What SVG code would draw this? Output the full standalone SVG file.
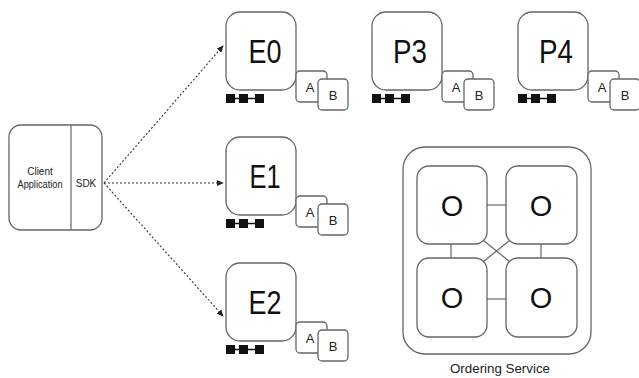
<svg xmlns="http://www.w3.org/2000/svg" width="639" height="378" viewBox="0 0 639 378">
<defs>
<style>
.box{fill:#fff;stroke:#666;stroke-width:1.3}
.big{font-family:"Liberation Sans","DejaVu Sans",sans-serif;font-size:33px;fill:#111;text-anchor:middle}
.ab{font-family:"Liberation Sans","DejaVu Sans",sans-serif;font-size:13px;fill:#222;text-anchor:middle}
.small{font-family:"Liberation Sans","DejaVu Sans",sans-serif;font-size:10px;fill:#222;text-anchor:middle}
.sq{fill:#111}
.chain{stroke:#111;stroke-width:1.5}
.conn{fill:none;stroke:#333;stroke-width:1.1;stroke-dasharray:2 2}
.link{stroke:#666;stroke-width:1.2}
.o{font-family:"Liberation Sans","DejaVu Sans",sans-serif;font-size:29px;fill:#111;text-anchor:middle}
</style>
<marker id="arr" viewBox="0 0 8 8" refX="7" refY="4" markerWidth="7" markerHeight="7" markerUnits="userSpaceOnUse" orient="auto">
<path d="M0,0.5 L8,4 L0,7.5 Z" fill="#222"/>
</marker>
<g id="peer">
<rect class="box" x="70" y="59" width="31" height="31" rx="4"/>
<text class="ab" x="84" y="80">A</text>
<rect class="box" x="92" y="67" width="30" height="31" rx="4"/>
<text class="ab" x="107" y="88">B</text>
<line class="chain" x1="1" y1="86.5" x2="37" y2="86.5"/>
<rect class="sq" x="0" y="82" width="9" height="9"/>
<rect class="sq" x="13" y="82" width="9" height="9"/>
<rect class="sq" x="29" y="82" width="9" height="9"/>
</g>
</defs>

<g id="connectors">
<line class="conn" x1="104" y1="183" x2="223" y2="46" marker-end="url(#arr)"/>
<line class="conn" x1="104" y1="183" x2="223" y2="183" marker-end="url(#arr)"/>
<line class="conn" x1="104" y1="183" x2="223" y2="316" marker-end="url(#arr)"/>
</g>

<g id="client">
<rect class="box" x="9" y="125" width="93" height="105" rx="12"/>
<line class="link" x1="71" y1="125" x2="71" y2="230"/>
<text class="small" x="40" y="175">Client</text>
<text class="small" x="40" y="188" textLength="45" lengthAdjust="spacingAndGlyphs">Application</text>
<text class="small" x="86" y="187">SDK</text>
</g>

<g id="E0">
<rect class="box" x="226" y="12" width="70" height="78" rx="14"/>
<text class="big" x="265" y="63" textLength="33" lengthAdjust="spacingAndGlyphs">E0</text>
<use href="#peer" x="226" y="12"/>
</g>
<g id="E1">
<rect class="box" x="226" y="137" width="70" height="78" rx="14"/>
<text class="big" x="265" y="188" textLength="31" lengthAdjust="spacingAndGlyphs">E1</text>
<use href="#peer" x="226" y="137"/>
</g>
<g id="E2">
<rect class="box" x="226" y="263" width="70" height="78" rx="14"/>
<text class="big" x="265" y="314" textLength="33" lengthAdjust="spacingAndGlyphs">E2</text>
<use href="#peer" x="226" y="263"/>
</g>
<g id="P3">
<rect class="box" x="372" y="12" width="70" height="78" rx="14"/>
<text class="big" x="410" y="63" textLength="34" lengthAdjust="spacingAndGlyphs">P3</text>
<use href="#peer" x="372" y="12"/>
</g>
<g id="P4">
<rect class="box" x="518" y="12" width="70" height="78" rx="14"/>
<text class="big" x="556" y="63" textLength="34" lengthAdjust="spacingAndGlyphs">P4</text>
<use href="#peer" x="518" y="12"/>
</g>

<g id="ordering">
<rect class="box" x="403" y="147" width="188" height="207" rx="22"/>
<line class="link" x1="487" y1="205" x2="506" y2="205"/>
<line class="link" x1="487" y1="299" x2="506" y2="299"/>
<line class="link" x1="451" y1="244" x2="451" y2="258"/>
<line class="link" x1="541" y1="244" x2="541" y2="258"/>
<line class="link" x1="483.5" y1="240.5" x2="509.5" y2="261.5"/>
<line class="link" x1="509.5" y1="240.5" x2="483.5" y2="261.5"/>
<g id="O1"><rect class="box" x="417" y="166" width="70" height="78" rx="12"/><text class="o" x="452" y="216">O</text></g>
<g id="O2"><rect class="box" x="506" y="166" width="71" height="78" rx="12"/><text class="o" x="541" y="216">O</text></g>
<g id="O3"><rect class="box" x="417" y="258" width="70" height="79" rx="12"/><text class="o" x="452" y="308">O</text></g>
<g id="O4"><rect class="box" x="506" y="258" width="71" height="79" rx="12"/><text class="o" x="541" y="308">O</text></g>
<text class="ab" x="500" y="373" textLength="100" lengthAdjust="spacingAndGlyphs">Ordering Service</text>
</g>
</svg>
